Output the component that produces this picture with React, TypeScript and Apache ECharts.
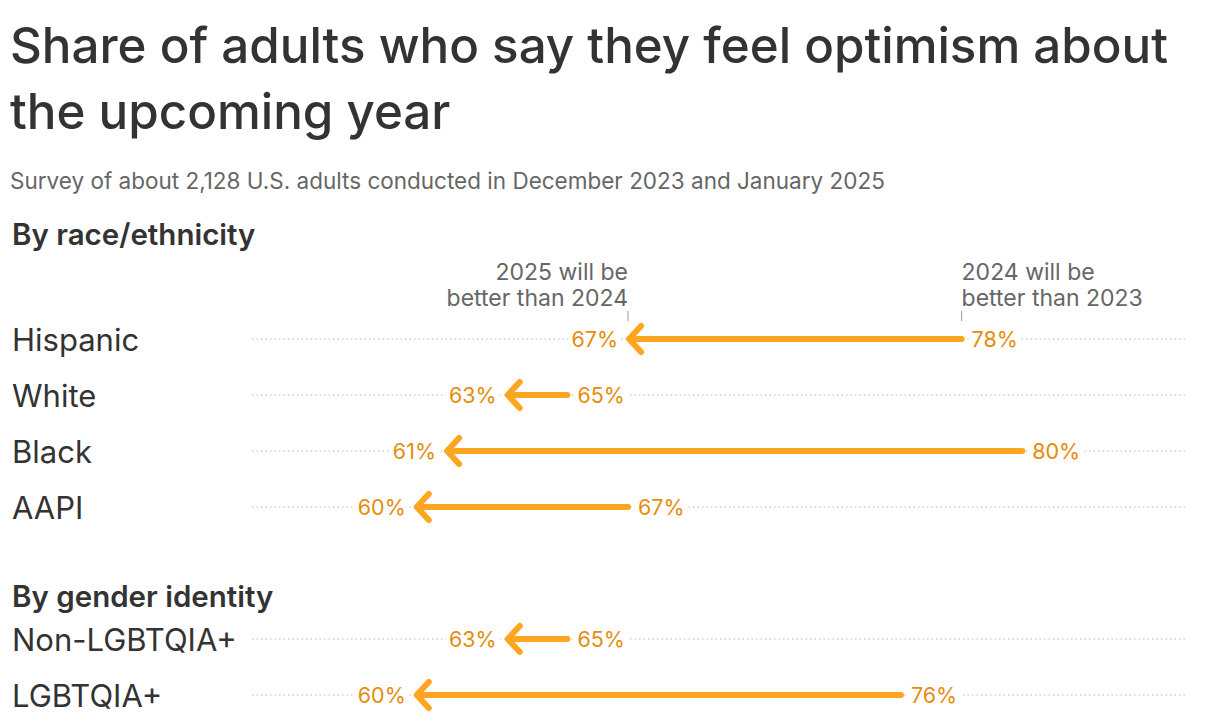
import React, { useEffect, useRef } from "react";
import * as echarts from "echarts";

const raceCategories = ["Hispanic", "White", "Black", "AAPI"];
const race2024 = [78, 65, 80, 67];
const race2025 = [67, 63, 61, 60];

const genderCategories = ["Non-LGBTQIA+", "LGBTQIA+"];
const gender2024 = [65, 76];
const gender2025 = [63, 60];

const X_MIN = 54.6;
const X_MAX = 85.4;

const FONT = "Inter, 'Noto Sans', sans-serif";
const ARROW = "#FFA51F";
const LABEL = "#E58D0B";

function makeRender(withAnnotation: boolean) {
  return (params: any, api: any) => {
    const idx = api.value(0);
    const v24 = api.value(1);
    const v25 = api.value(2);
    const tail = api.coord([v24, idx]);
    const tip = api.coord([v25, idx]);
    const a = api.coord([X_MIN, idx]);
    const b = api.coord([X_MAX, idx]);
    const y = tip[1];
    const children: any[] = [
      {
        type: "line",
        shape: { x1: a[0], y1: y, x2: b[0], y2: y },
        style: { stroke: "#cfcfcf", lineWidth: 1.5, lineDash: [1.5, 3] },
      },
      {
        type: "line",
        shape: { x1: tail[0], y1: y, x2: tip[0] + 3, y2: y },
        style: { stroke: ARROW, lineWidth: 6, lineCap: "round" },
      },
      {
        type: "polyline",
        shape: {
          points: [
            [tip[0] + 13, y - 13],
            [tip[0] + 1, y],
            [tip[0] + 13, y + 13],
          ],
        },
        style: { stroke: ARROW, lineWidth: 6, lineCap: "round", lineJoin: "round", fill: null },
      },
      {
        type: "text",
        x: tip[0] - 7,
        y: y,
        style: {
          text: v25 + "%",
          align: "right",
          verticalAlign: "middle",
          fill: LABEL,
          fontSize: 21.5,
          fontFamily: FONT,
          backgroundColor: "#fff",
          padding: [2, 3],
        },
      },
      {
        type: "text",
        x: tail[0] + 7,
        y: y,
        style: {
          text: v24 + "%",
          align: "left",
          verticalAlign: "middle",
          fill: LABEL,
          fontSize: 21.5,
          fontFamily: FONT,
          backgroundColor: "#fff",
          padding: [2, 3],
        },
      },
    ];
    if (withAnnotation && params.dataIndex === 0) {
      children.push(
        {
          type: "line",
          shape: { x1: tip[0], y1: y - 28, x2: tip[0], y2: y - 18 },
          style: { stroke: "#999", lineWidth: 1 },
        },
        {
          type: "line",
          shape: { x1: tail[0], y1: y - 28, x2: tail[0], y2: y - 18 },
          style: { stroke: "#999", lineWidth: 1 },
        },
        {
          type: "text",
          x: tip[0],
          y: y - 28,
          style: {
            text: "2025 will be\nbetter than 2024",
            align: "right",
            verticalAlign: "bottom",
            fill: "#666",
            fontSize: 23,
            lineHeight: 26,
            fontFamily: FONT,
          },
        },
        {
          type: "text",
          x: tail[0],
          y: y - 28,
          style: {
            text: "2024 will be\nbetter than 2023",
            align: "left",
            verticalAlign: "bottom",
            fill: "#666",
            fontSize: 23,
            lineHeight: 26,
            fontFamily: FONT,
          },
        }
      );
    }
    return { type: "group", children };
  };
}

export default function App() {
  const ref = useRef<HTMLDivElement>(null);
  useEffect(() => {
    if (!ref.current) return;
    const chart = echarts.init(ref.current, undefined, { renderer: "svg" });
    const yAxisBase = {
      type: "category",
      inverse: true,
      axisLine: { show: false },
      axisTick: { show: false },
      axisLabel: {
        align: "left",
        margin: 240,
        fontSize: 31,
        color: "#333",
        fontFamily: FONT,
      },
    };
    const xAxisBase = { type: "value", min: X_MIN, max: X_MAX, show: false };
    chart.setOption({
      animation: false,
      backgroundColor: "#fff",
      title: [
        {
          text: "Share of adults who say they feel optimism about\nthe upcoming year",
          left: 10,
          top: 12,
          padding: 0,
          textStyle: { fontSize: 49.3, lineHeight: 66, color: "#333", fontWeight: 500, fontFamily: FONT },
        },
        {
          text: "Survey of about 2,128 U.S. adults conducted in December 2023 and January 2025",
          left: 10,
          top: 167,
          padding: 0,
          textStyle: { fontSize: 22.5, lineHeight: 26, color: "#666", fontWeight: "normal", fontFamily: FONT },
        },
        {
          text: "By race/ethnicity",
          left: 12,
          top: 217,
          padding: 0,
          textStyle: { fontSize: 29.5, lineHeight: 34, color: "#333", fontWeight: 600, fontFamily: FONT },
        },
        {
          text: "By gender identity",
          left: 12,
          top: 579,
          padding: 0,
          textStyle: { fontSize: 29.5, lineHeight: 34, color: "#333", fontWeight: 600, fontFamily: FONT },
        },
      ],
      grid: [
        { left: 252, width: 934, top: 311, height: 224 },
        { left: 252, width: 934, top: 611, height: 112 },
      ],
      xAxis: [
        { ...xAxisBase, gridIndex: 0 },
        { ...xAxisBase, gridIndex: 1 },
      ],
      yAxis: [
        { ...yAxisBase, gridIndex: 0, data: raceCategories },
        { ...yAxisBase, gridIndex: 1, data: genderCategories },
      ],
      series: [
        {
          type: "custom",
          xAxisIndex: 0,
          yAxisIndex: 0,
          renderItem: makeRender(true),
          encode: { x: [1, 2], y: 0 },
          data: raceCategories.map((_, i) => [i, race2024[i], race2025[i]]),
          clip: false,
        },
        {
          type: "custom",
          xAxisIndex: 1,
          yAxisIndex: 1,
          renderItem: makeRender(false),
          encode: { x: [1, 2], y: 0 },
          data: genderCategories.map((_, i) => [i, gender2024[i], gender2025[i]]),
          clip: false,
        },
      ],
    });
    return () => chart.dispose();
  }, []);
  return (
    <div
      ref={ref}
      style={{ position: "absolute", left: 0, top: 0, width: 1220, height: 728 }}
    />
  );
}
